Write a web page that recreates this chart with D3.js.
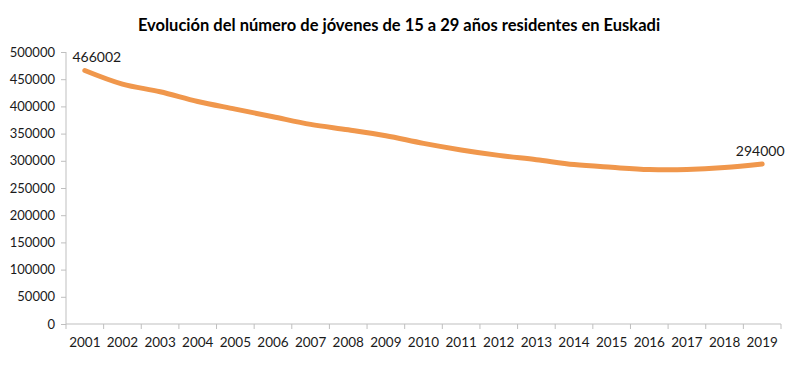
<!DOCTYPE html>
<html><head><meta charset="utf-8">
<script src="https://cdn.jsdelivr.net/npm/d3@7"></script>
<style>body{margin:0;background:#fff}svg{display:block}text{font-family:Lato,"Open Sans",sans-serif}</style>
</head><body><svg id="c" width="800" height="365"></svg>
<script>
const years = ["2001","2002","2003","2004","2005","2006","2007","2008","2009","2010","2011","2012","2013","2014","2015","2016","2017","2018","2019"];
const jovenes = [466002,441000,427000,409000,395000,381000,367000,357000,346000,332000,320000,310000,302000,293000,288000,284000,284000,287500,294000];
const yTicks = [0,50000,100000,150000,200000,250000,300000,350000,400000,450000,500000];
const title = "Evolución del número de jóvenes de 15 a 29 años residentes en Euskadi";
const labelIdx = [0, 18];

const svg = d3.select("#c");
const L = 66, R = 781, T = 52, B = 324;
const x = d3.scaleBand().domain(years).range([L, R]);
const y = d3.scaleLinear().domain([0, 500000]).range([B, T]);
const axisCol = "#bfbfbf";

svg.append("text").attr("x", 399).attr("y", 31).attr("text-anchor", "middle")
  .attr("font-size", 16.5).attr("font-weight", "bold").attr("fill", "#000").text(title);

const ya = svg.append("g").attr("transform", `translate(${L},0)`)
  .call(d3.axisLeft(y).tickValues(yTicks).tickSize(5).tickPadding(6).tickFormat(d3.format("d")));
ya.selectAll("path,line").attr("stroke", axisCol);
ya.select("path").attr("d", `M0,${B}V${T}`);
ya.selectAll("text").attr("font-size", 13).attr("fill", "#1a1a1a").style("font-family", "Lato,'Open Sans',sans-serif");

const xa = svg.append("g").attr("transform", `translate(0,${B})`)
  .call(d3.axisBottom(x).tickSize(0).tickPadding(13));
xa.select("path").attr("stroke", axisCol).attr("d", `M${L},0H${R}`);
xa.selectAll("text").attr("font-size", 13.5).attr("fill", "#1a1a1a").style("font-family", "Lato,'Open Sans',sans-serif");
const bounds = years.map(d => x(d)).concat([R]);
xa.selectAll(".bt").data(bounds).enter().append("line").attr("class", "bt")
  .attr("x1", d => d).attr("x2", d => d).attr("y1", 0).attr("y2", 5).attr("stroke", axisCol);

const cx = d => x(d) + x.bandwidth() / 2;
const line = d3.line().x((d, i) => cx(years[i])).y(d => y(d)).curve(d3.curveCatmullRom.alpha(0.5));
svg.append("path").datum(jovenes).attr("d", line).attr("fill", "none")
  .attr("stroke", "#f0974c").attr("stroke-width", 5).attr("stroke-linecap", "round");

svg.selectAll(".lbl").data(labelIdx).enter().append("text").attr("class", "lbl")
  .attr("x", i => cx(years[i]) + (i === 0 ? 12 : -2))
  .attr("y", i => y(jovenes[i]) - 8)
  .attr("text-anchor", "middle").attr("font-size", 14).attr("fill", "#1a1a1a")
  .text(i => jovenes[i]);
</script></body></html>
